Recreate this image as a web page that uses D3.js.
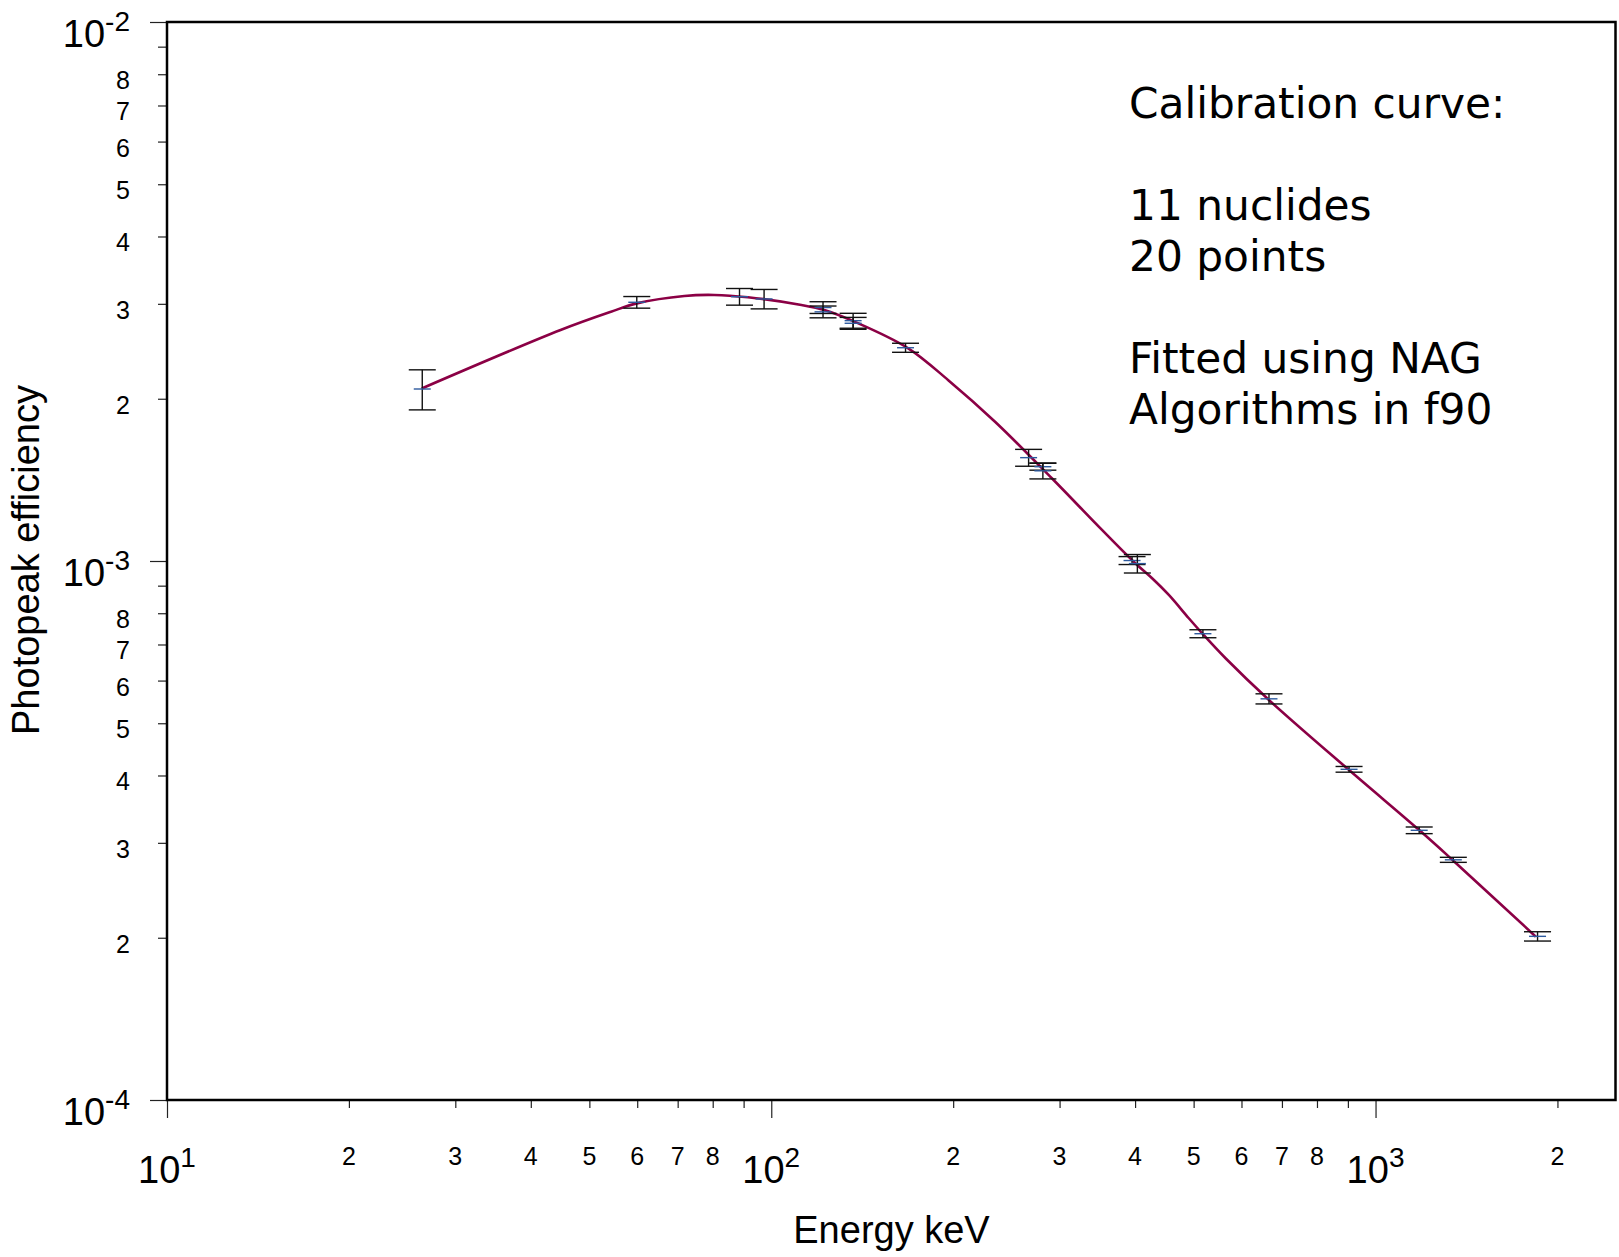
<!DOCTYPE html>
<html>
<head>
<meta charset="utf-8">
<script src="https://cdn.jsdelivr.net/npm/d3@7/dist/d3.min.js"></script>
<style>
  body { margin: 0; background: #fff; }
  .tick line { stroke: #222; stroke-width: 1.2; }
</style>
</head>
<body>
<div id="chart"></div>
<script>
// measured peaks: energy (keV), efficiency, +/- error
var energy     = [26.45, 59.9, 88.6, 97.3, 121.8, 121.8, 136.6, 136.6, 166.8, 266.6, 281.5, 281.5, 395.4, 403.5, 518, 666.3, 904, 1181, 1345, 1854];
var efficiency = [2.085e-3, 3.020e-3, 3.093e-3, 3.063e-3, 2.953e-3, 2.899e-3, 2.792e-3, 2.761e-3, 2.487e-3, 1.555e-3, 1.496e-3, 1.470e-3, 1.002e-3, 0.989e-3, 7.33e-4, 5.55e-4, 4.107e-4, 3.165e-4, 2.79e-4, 2.012e-4];
var errors     = [0.178e-3, 0.075e-3, 0.11e-3, 0.127e-3, 0.074e-3, 0.073e-3, 0.089e-3, 0.07e-3, 0.048e-3, 0.056e-3, 0.022e-3, 0.05e-3, 0.017e-3, 0.039e-3, 0.125e-4, 0.12e-4, 0.05e-4, 0.045e-4, 0.03e-4, 0.04e-4];

// fitted calibration curve
var fitEnergy     = [26.4, 44.8, 54.3, 59.9, 71.8, 80.5, 91.5, 112.2, 122.4, 137.3, 168.5, 196.3, 234.6, 291.3, 352.6, 399.9, 426.8, 454.9, 490.9, 516.6, 564.7, 666.3, 904, 1181, 1341, 1842];
var fitEfficiency = [2.09e-3, 2.683e-3, 2.901e-3, 3.006e-3, 3.103e-3, 3.116e-3, 3.085e-3, 2.985e-3, 2.922e-3, 2.780e-3, 2.481e-3, 2.165e-3, 1.813e-3, 1.424e-3, 1.142e-3, 0.9915e-3, 0.929e-3, 0.865e-3, 0.783e-3, 0.734e-3, 0.660e-3, 0.5522e-3, 0.4094e-3, 0.3168e-3, 0.2788e-3, 0.2009e-3];

// ticks
var xMajor = [10, 100, 1000];
var xMajorExp = ["1", "2", "3"];
var xMinor = [20, 30, 40, 50, 60, 70, 80, 90, 200, 300, 400, 500, 600, 700, 800, 900, 2000];
var xMinorLabels = ["2", "3", "4", "5", "6", "7", "8", "", "2", "3", "4", "5", "6", "7", "8", "", "2"];
var yMajor = [1e-4, 1e-3, 1e-2];
var yMajorExp = ["-4", "-3", "-2"];
var yMinor = [2e-4, 3e-4, 4e-4, 5e-4, 6e-4, 7e-4, 8e-4, 9e-4, 2e-3, 3e-3, 4e-3, 5e-3, 6e-3, 7e-3, 8e-3, 9e-3];
var yMinorLabels = ["2", "3", "4", "5", "6", "7", "8", "", "2", "3", "4", "5", "6", "7", "8", ""];

var notes = ["Calibration curve:", "", "11 nuclides", "20 points", "", "Fitted using NAG", "Algorithms in f90"];

var margin = {top: 22, right: 3, bottom: 157, left: 167},
    width = 1619 - margin.left - margin.right,
    height = 1257 - margin.top - margin.bottom;

var svg = d3.select("#chart")
    .append("svg")
    .attr("width", width + margin.left + margin.right)
    .attr("height", height + margin.top + margin.bottom)
    .append("g")
    .attr("transform", "translate(" + margin.left + "," + margin.top + ")");

var x = d3.scaleLog().domain([10, 2500]).range([0, width]);
var y = d3.scaleLog().domain([1e-4, 1e-2]).range([height, 0]);

var labelFont = "'Liberation Sans', Arial, sans-serif";

// X ticks
svg.append("g")
    .attr("transform", "translate(0," + height + ")")
    .call(d3.axisBottom(x).tickValues(xMajor).tickSize(18).tickFormat(""))
    .call(function (g) { g.select(".domain").remove(); });
svg.append("g")
    .attr("transform", "translate(0," + height + ")")
    .call(d3.axisBottom(x).tickValues(xMinor).tickSize(8).tickFormat(""))
    .call(function (g) { g.select(".domain").remove(); });

// Y ticks
svg.append("g")
    .call(d3.axisLeft(y).tickValues(yMajor).tickSize(17).tickFormat(""))
    .call(function (g) { g.select(".domain").remove(); });
svg.append("g")
    .call(d3.axisLeft(y).tickValues(yMinor).tickSize(9).tickFormat(""))
    .call(function (g) { g.select(".domain").remove(); });

// X tick labels
var xl = svg.append("g").attr("font-family", labelFont).attr("fill", "#000");
xMajor.forEach(function (v, i) {
    var t = xl.append("text")
        .attr("x", x(v))
        .attr("y", height + 83)
        .attr("text-anchor", "middle")
        .attr("font-size", 38);
    t.append("tspan").text("10");
    t.append("tspan").attr("font-size", 28).attr("dy", -16).text(xMajorExp[i]);
});
xMinor.forEach(function (v, i) {
    if (!xMinorLabels[i]) return;
    xl.append("text")
        .attr("x", x(v))
        .attr("y", height + 65)
        .attr("text-anchor", "middle")
        .attr("font-size", 25)
        .text(xMinorLabels[i]);
});

// Y tick labels
var yl = svg.append("g").attr("font-family", labelFont).attr("fill", "#000");
yMajor.forEach(function (v, i) {
    var t = yl.append("text")
        .attr("x", -37)
        .attr("y", y(v) + 25)
        .attr("text-anchor", "end")
        .attr("font-size", 38);
    t.append("tspan").text("10");
    t.append("tspan").attr("font-size", 28).attr("dy", -16).text(yMajorExp[i]);
});
yMinor.forEach(function (v, i) {
    if (!yMinorLabels[i]) return;
    yl.append("text")
        .attr("x", -37)
        .attr("y", y(v) + 15)
        .attr("text-anchor", "end")
        .attr("font-size", 25)
        .text(yMinorLabels[i]);
});

// Axis titles
svg.append("text")
    .attr("x", width / 2)
    .attr("y", height + 143)
    .attr("text-anchor", "middle")
    .attr("font-family", labelFont)
    .attr("font-size", 38)
    .text("Energy keV");
svg.append("text")
    .attr("transform", "translate(" + (39 - margin.left) + "," + (560 - margin.top) + ") rotate(-90)")
    .attr("text-anchor", "middle")
    .attr("font-family", labelFont)
    .attr("font-size", 38)
    .text("Photopeak efficiency");

// fitted curve
var pts = fitEnergy.map(function (e, i) { return [e, fitEfficiency[i]]; });
svg.append("path")
    .datum(pts)
    .attr("fill", "none")
    .attr("stroke", "#8b0045")
    .attr("stroke-width", 2.6)
    .attr("d", d3.line()
        .x(function (d) { return x(d[0]); })
        .y(function (d) { return y(d[1]); })
        .curve(d3.curveCatmullRom.alpha(0.5)));

// error bars
var data = energy.map(function (e, i) { return {e: e, v: efficiency[i], err: errors[i]}; });
var bars = svg.append("g").selectAll("g.bar")
    .data(data)
    .enter()
    .append("g")
    .attr("class", "bar");
bars.append("line")
    .attr("x1", function (d) { return x(d.e); })
    .attr("x2", function (d) { return x(d.e); })
    .attr("y1", function (d) { return y(d.v + d.err); })
    .attr("y2", function (d) { return y(d.v - d.err); })
    .attr("stroke", "#111")
    .attr("stroke-width", 1.4);
[1, -1].forEach(function (s) {
    bars.append("line")
        .attr("x1", function (d) { return x(d.e) - 13.5; })
        .attr("x2", function (d) { return x(d.e) + 13.5; })
        .attr("y1", function (d) { return y(d.v + s * d.err); })
        .attr("y2", function (d) { return y(d.v + s * d.err); })
        .attr("stroke", "#111")
        .attr("stroke-width", 1.4);
});
bars.append("line")
    .attr("x1", function (d) { return x(d.e) - 8.5; })
    .attr("x2", function (d) { return x(d.e) + 8.5; })
    .attr("y1", function (d) { return y(d.v); })
    .attr("y2", function (d) { return y(d.v); })
    .attr("stroke", "#2d5a9e")
    .attr("stroke-width", 1.4);

// frame
svg.append("rect")
    .attr("width", width - 0.5)
    .attr("height", height)
    .attr("fill", "none")
    .attr("stroke", "#000")
    .attr("stroke-width", 2.5);

// notes
var nt = svg.append("text")
    .attr("font-family", "'DejaVu Sans', Verdana, sans-serif")
    .attr("font-size", 42.3)
    .attr("fill", "#000");
notes.forEach(function (s, i) {
    nt.append("tspan")
        .attr("x", 962)
        .attr("y", 96 + i * 51)
        .text(s);
});
</script>
</body>
</html>
